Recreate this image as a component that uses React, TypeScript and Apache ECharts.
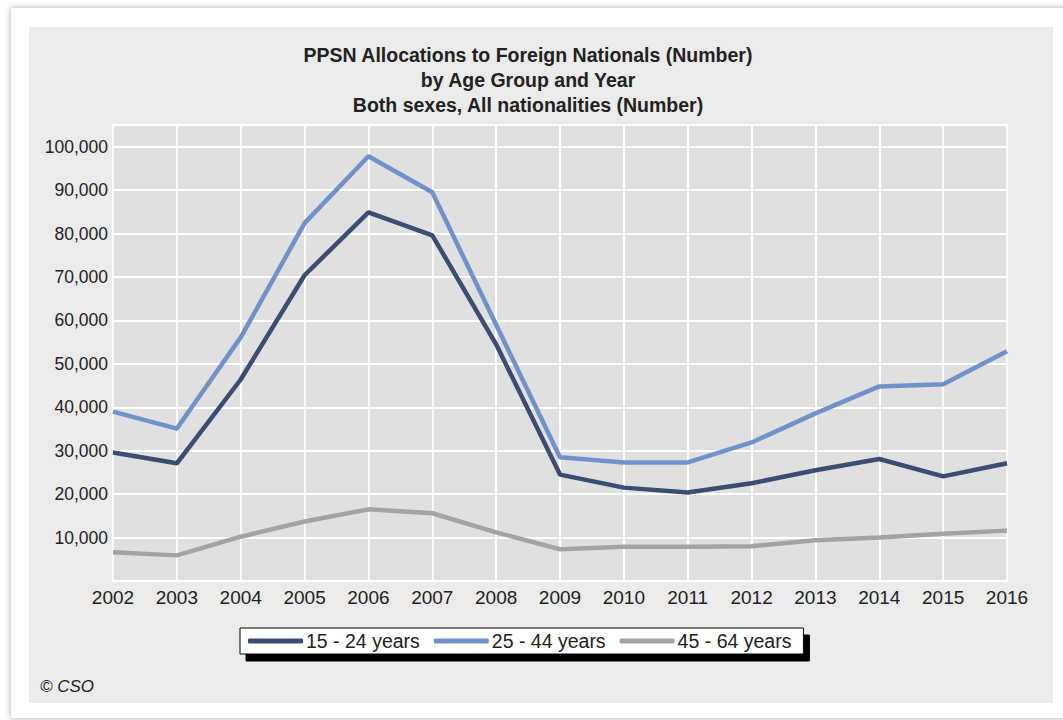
import React, { useEffect, useRef } from "react";
import * as echarts from "echarts";

const years = ["2002","2003","2004","2005","2006","2007","2008","2009","2010","2011","2012","2013","2014","2015","2016"];
const age15to24 = [29600, 27100, 46400, 70400, 84900, 79600, 54500, 24500, 21500, 20400, 22500, 25500, 28100, 24100, 27100];
const age25to44 = [39000, 35100, 56100, 82400, 97800, 89500, 59000, 28500, 27300, 27300, 31900, 38600, 44800, 45300, 52900];
const age45to64 = [6600, 5900, 10200, 13700, 16500, 15600, 11200, 7300, 7900, 7900, 8000, 9400, 10000, 10900, 11600];
const seriesNames = ["15 - 24 years", "25 - 44 years", "45 - 64 years"];
const titleLines = [
  "PPSN Allocations to Foreign Nationals (Number)",
  "by Age Group and Year",
  "Both sexes, All nationalities (Number)",
];

export default function App() {
  const ref = useRef<HTMLDivElement>(null);
  useEffect(() => {
    if (!ref.current) return;
    const chart = echarts.init(ref.current, null, { renderer: "svg" });
    const font = "'Liberation Sans', Arial, sans-serif";
    const colors = ["#3b4d72", "#7192c9", "#a3a3a3"];
    const data = [age15to24, age25to44, age45to64];
    chart.setOption({
      animation: false,
      textStyle: { fontFamily: font },
      graphic: [
        {
          type: "rect",
          z: -10,
          shape: { x: 11, y: 8, width: 1070, height: 710 },
          style: { fill: "#ffffff", shadowBlur: 6, shadowColor: "rgba(0,0,0,0.35)", shadowOffsetX: 0, shadowOffsetY: 0 },
        },
        {
          type: "rect",
          z: -9,
          shape: { x: 29, y: 27, width: 1024, height: 676 },
          style: { fill: "#ebebeb" },
        },
        {
          type: "text",
          left: 40,
          top: 678,
          style: { text: "© CSO", font: "italic 17px " + font, fill: "#222" },
        },
      ],
      title: {
        text: titleLines.join("\n"),
        left: 523,
        top: 37,
        textAlign: "center",
        textStyle: { fontSize: 19.5, fontWeight: "bold", color: "#222", lineHeight: 25, fontFamily: font },
      },
      legend: {
        data: seriesNames,
        left: 240,
        top: 628,
        padding: [3, 12, 3, 8],
        icon: "roundRect",
        itemWidth: 55,
        itemHeight: 5,
        itemGap: 14,
        backgroundColor: "#ffffff",
        borderColor: "#000",
        borderWidth: 1,
        borderRadius: 0,
        shadowColor: "#000",
        shadowBlur: 0,
        shadowOffsetX: 6,
        shadowOffsetY: 7,
        textStyle: { fontSize: 19.5, color: "#222", fontFamily: font, padding: [0, 0, 0, -2] },
      },
      grid: {
        left: 113,
        right: 1063 - 1007,
        top: 125,
        bottom: 720 - 581,
        show: true,
        backgroundColor: "#e0e0e0",
        borderColor: "#ffffff",
        borderWidth: 2,
      },
      xAxis: {
        type: "category",
        data: years,
        boundaryGap: false,
        axisLine: { show: false },
        axisTick: { show: false },
        axisLabel: { fontSize: 19, color: "#222", margin: 7, fontFamily: font },
        splitLine: { show: true, lineStyle: { color: "#ffffff", width: 2 } },
      },
      yAxis: {
        type: "value",
        min: 0,
        max: 105000,
        interval: 10000,
        axisLine: { show: false },
        axisTick: { show: false },
        axisLabel: {
          fontSize: 17.5,
          color: "#222",
          margin: 5,
          fontFamily: font,
          showMaxLabel: false,
          formatter: (v: number) => (v === 0 ? "" : v.toLocaleString("en-US")),
        },
        splitLine: { show: true, lineStyle: { color: "#ffffff", width: 2 } },
      },
      series: seriesNames.map((name, i) => ({
        name,
        type: "line",
        data: data[i],
        symbol: "none",
        color: colors[i],
        lineStyle: { width: 4.5, color: colors[i] },
        z: 3 - i,
      })),
    });
    return () => chart.dispose();
  }, []);
  return <div ref={ref} style={{ position: "absolute", left: 0, top: 0, width: 1063, height: 720 }} />;
}
